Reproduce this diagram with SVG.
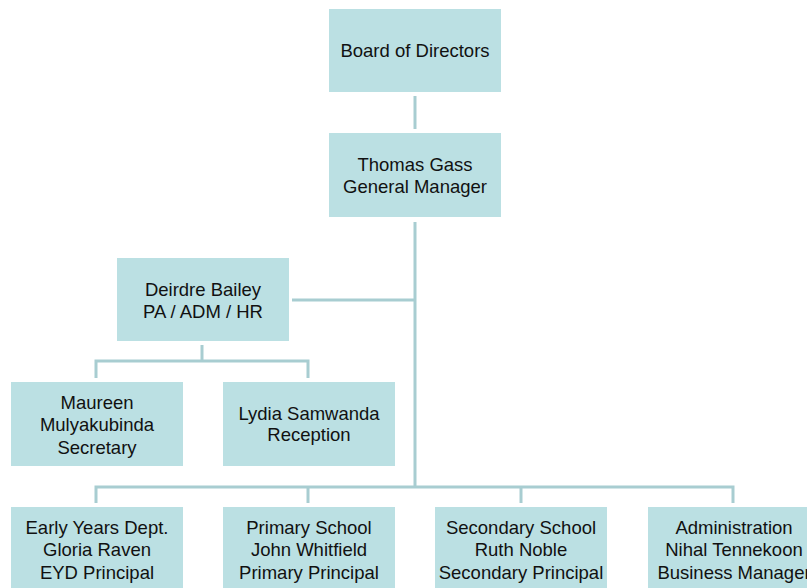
<svg xmlns="http://www.w3.org/2000/svg" width="807" height="588" viewBox="0 0 807 588">
<style>
.box{fill:#BBE0E3;}
.t{font-family:"Liberation Sans",Arial,sans-serif;font-size:18.5px;fill:#111;text-anchor:middle;}
.c{stroke:#A8CDD1;stroke-width:3;fill:none;}
</style>
<rect width="807" height="588" fill="#fff"/>
<g id="connectors">
<line class="c" x1="415" y1="96" x2="415" y2="129"/>
<line class="c" x1="415" y1="222" x2="415" y2="487"/>
<line class="c" x1="292" y1="300" x2="415" y2="300"/>
<polyline class="c" points="202,345 202,361"/>
<polyline class="c" points="96,378 96,361 308,361 308,378"/>
<polyline class="c" points="96,503 96,487 733,487 733,503"/>
<line class="c" x1="308" y1="487" x2="308" y2="503"/>
<line class="c" x1="521" y1="487" x2="521" y2="503"/>
</g>
<g id="board"><rect class="box" x="329" y="9" width="172" height="83"/><text class="t" x="415" y="57">Board of Directors</text></g>
<g id="gm"><rect class="box" x="329" y="133" width="172" height="84"/><text class="t" x="415" y="171">Thomas Gass</text><text class="t" x="415" y="193">General Manager</text></g>
<g id="pa"><rect class="box" x="117" y="258" width="172" height="83"/><text class="t" x="203" y="296">Deirdre Bailey</text><text class="t" x="203" y="318">PA / ADM / HR</text></g>
<g id="secretary"><rect class="box" x="11" y="382" width="172" height="84"/><text class="t" x="97" y="409">Maureen</text><text class="t" x="97" y="431">Mulyakubinda</text><text class="t" x="97" y="454">Secretary</text></g>
<g id="reception"><rect class="box" x="223" y="382" width="172" height="84"/><text class="t" x="309" y="420">Lydia Samwanda</text><text class="t" x="309" y="441">Reception</text></g>
<g id="eyd"><rect class="box" x="11" y="507" width="172" height="90"/><text class="t" x="97" y="534">Early Years Dept.</text><text class="t" x="97" y="556">Gloria Raven</text><text class="t" x="97" y="579">EYD Principal</text></g>
<g id="primary"><rect class="box" x="223" y="507" width="172" height="90"/><text class="t" x="309" y="534">Primary School</text><text class="t" x="309" y="556">John Whitfield</text><text class="t" x="309" y="579">Primary Principal</text></g>
<g id="secondary"><rect class="box" x="435" y="507" width="172" height="90"/><text class="t" x="521" y="534">Secondary School</text><text class="t" x="521" y="556">Ruth Noble</text><text class="t" x="521" y="579">Secondary Principal</text></g>
<g id="admin"><rect class="box" x="648" y="507" width="172" height="90"/><text class="t" x="734" y="534">Administration</text><text class="t" x="734" y="556">Nihal Tennekoon</text><text class="t" x="734" y="579">Business Manager</text></g>
</svg>
